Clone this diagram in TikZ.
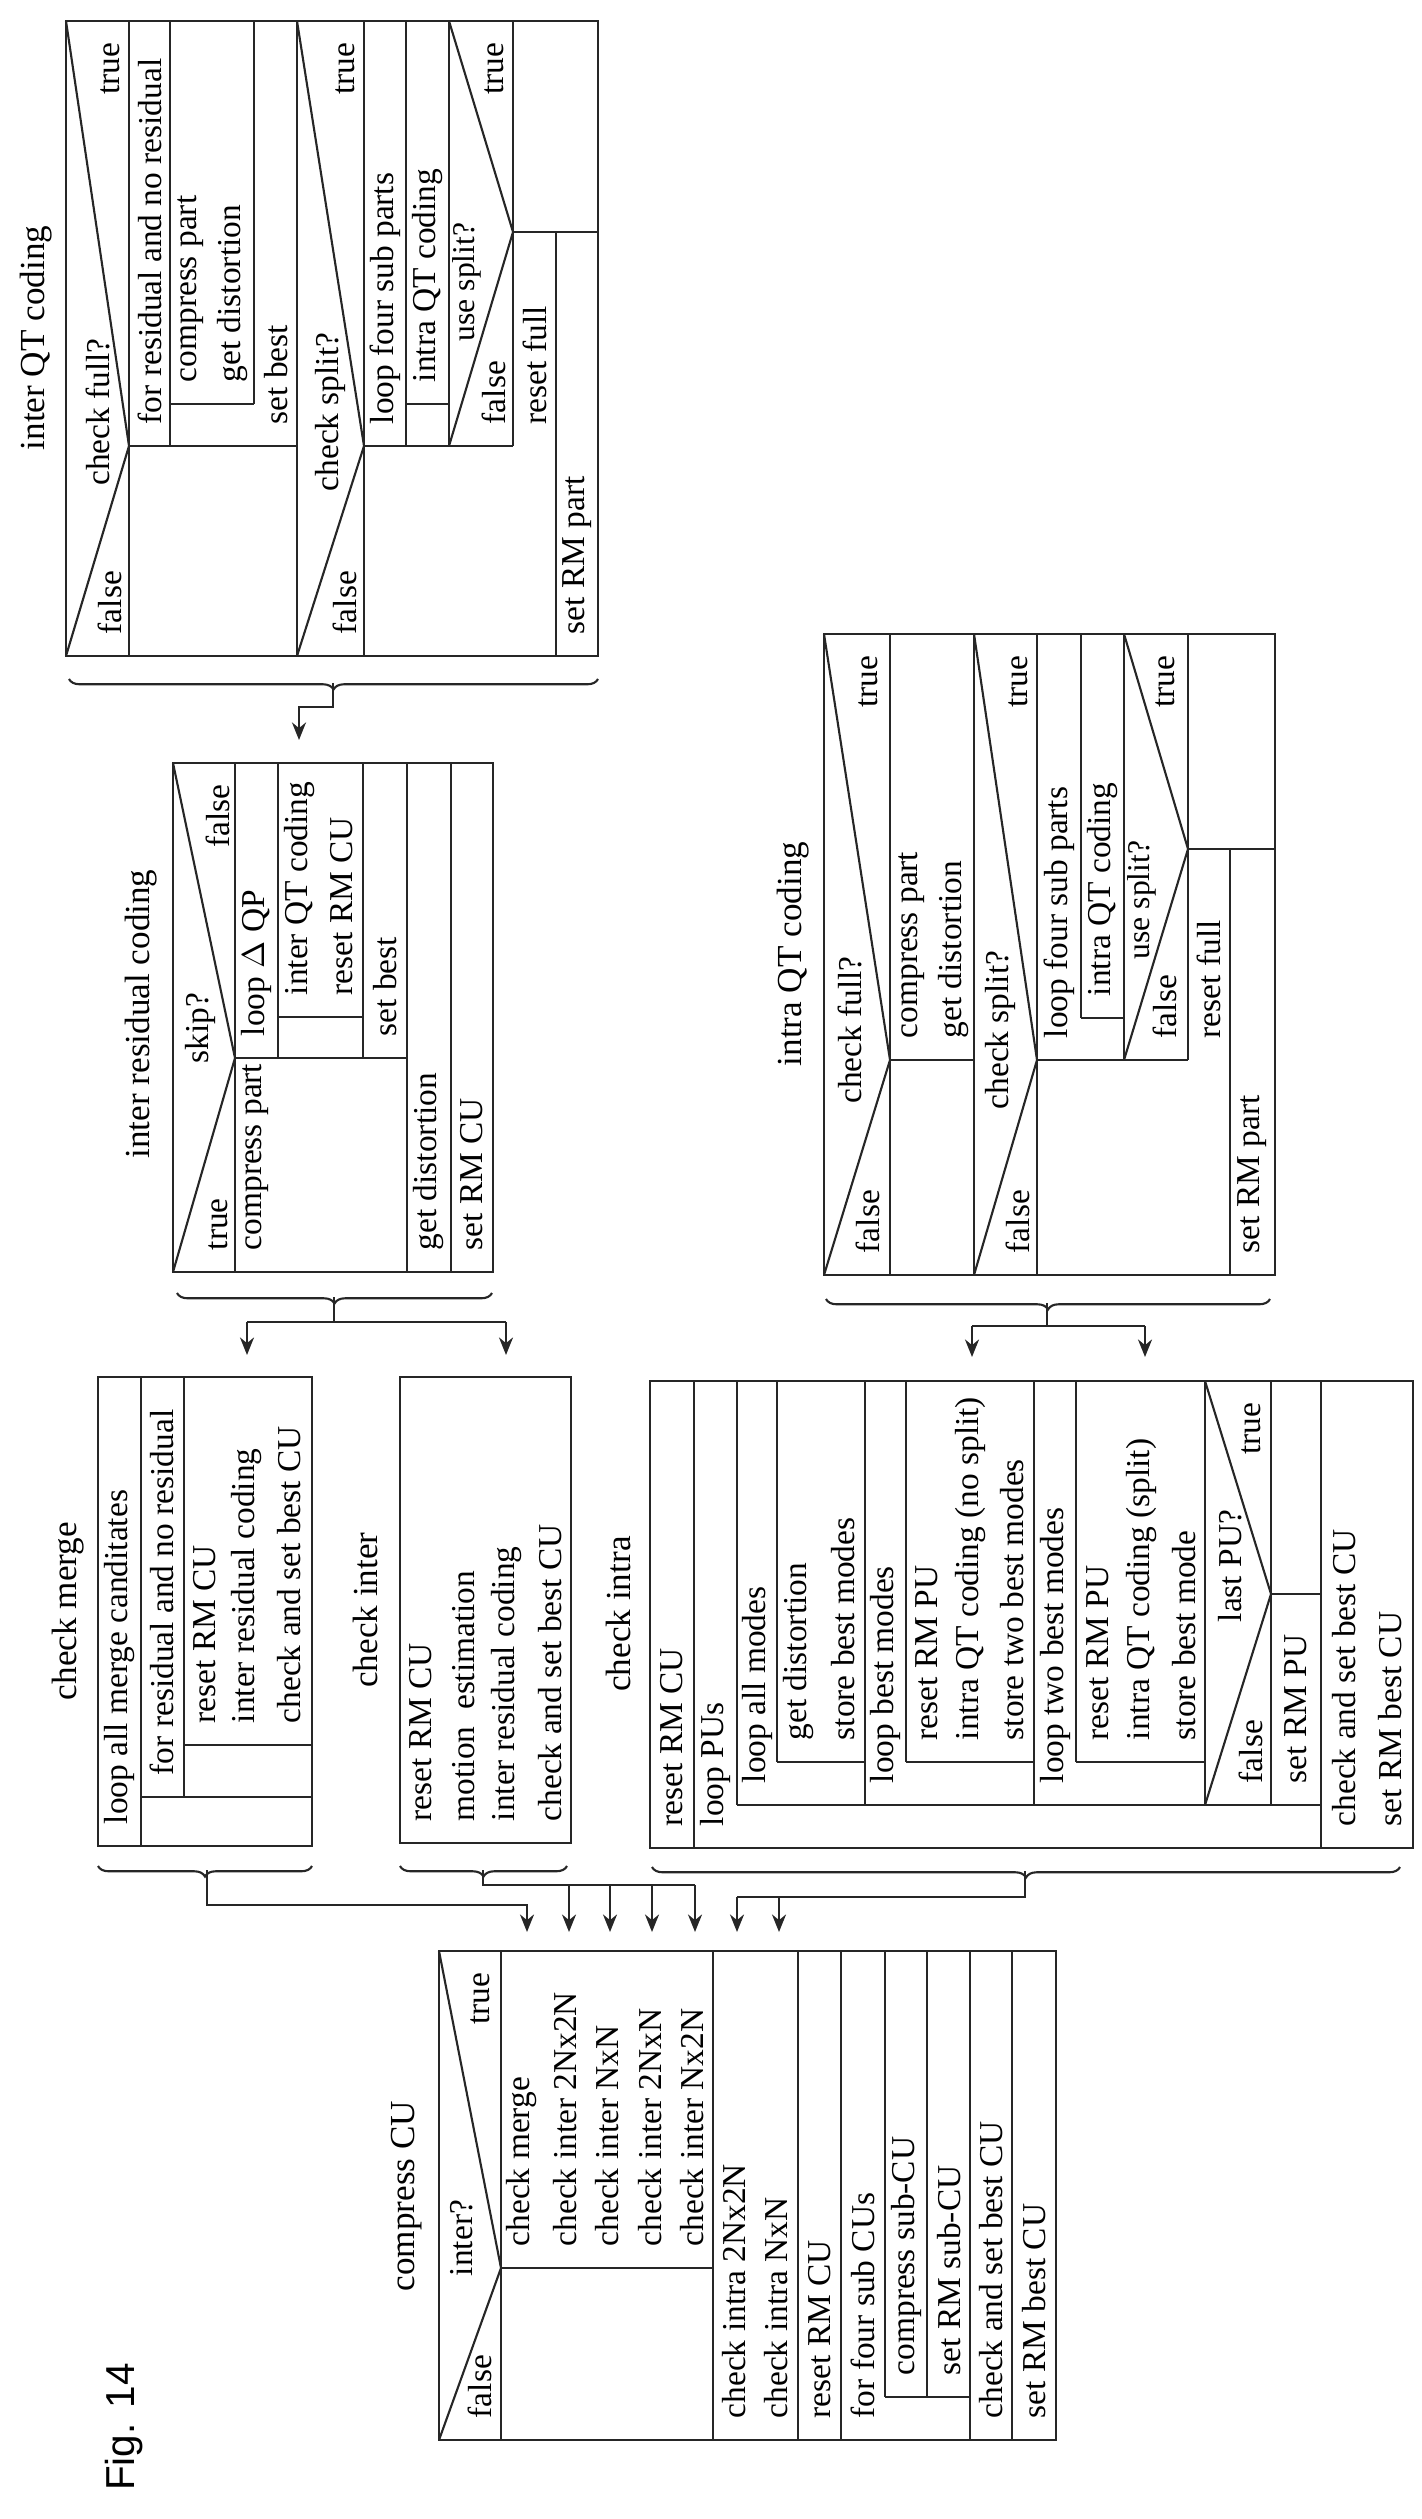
\documentclass[tikz,border=0pt]{standalone}
\usepackage{fontspec}
\setmainfont{Liberation Serif}
\newfontfamily\figfont{Liberation Sans}
\usetikzlibrary{arrows.meta,decorations.pathreplacing}
\begin{document}
\begin{tikzpicture}[x=0.01cm,y=-0.01cm,
  ln/.style={line width=0.6pt,black!85},
  txt/.style={rotate=90,inner xsep=6pt,inner ysep=0pt,font=\fontsize{9.5}{11}\selectfont},
  ttl/.style={rotate=90,inner sep=0pt,font=\fontsize{10}{12}\selectfont},
  arr/.style={ln,-{Stealth[length=5pt,width=4pt]}},
  br/.style={ln,decorate,decoration={brace,mirror,amplitude=3pt}}]
\newcommand\tB[4]{\node[txt,anchor=west] (#1) at (#2,#3) {#4};}
\newcommand\tT[4]{\node[txt,anchor=east] (#1) at (#2,#3) {#4};}
\newcommand\tC[4]{\node[txt,anchor=center,inner xsep=0pt] (#1) at (#2,#3) {#4};}
\useasboundingbox (0,0) rectangle (1421,2519);

\node[rotate=90,inner sep=0pt,font=\figfont\fontsize{11.5}{13}\selectfont] (fig) at (124,2427) {Fig. 14};

%% ---------------- inter QT coding
\node[ttl] (tiq) at (36,338) {inter QT coding};
\draw[ln] (66,21) rectangle (598,656);
\draw[ln] (66,21) -- (129,446) -- (66,656);
\draw[ln] (129,21) -- (129,656) (129,446) -- (297,446) (170,21) -- (170,446)
  (254,21) -- (254,404) (170,404) -- (254,404) (297,21) -- (297,656);
\draw[ln] (297,21) -- (364,446) -- (297,656);
\draw[ln] (364,21) -- (364,656) (364,446) -- (513,446) (406,21) -- (406,446)
  (449,21) -- (449,446) (406,404) -- (449,404);
\draw[ln] (449,21) -- (513,232) -- (449,446);
\draw[ln] (513,21) -- (513,446) (513,232) -- (598,232) (556,232) -- (556,656);
\tC{a1}{98}{412}{check full?}
\tT{a2}{110}{21}{true}
\tB{a3}{110}{656}{false}
\tB{a4}{150}{446}{for residual and no residual}
\tB{a5}{191}{404}{compress part}
\tB{a6}{233}{404}{get distortion}
\tB{a7}{276}{446}{set best}
\tC{a8}{330}{412}{check split?}
\tT{a9}{345}{21}{true}
\tB{a10}{345}{656}{false}
\tB{a11}{385}{446}{loop four sub parts}
\tB{a12}{428}{404}{intra QT coding}
\node[txt,inner xsep=0pt,font=\fontsize{9}{10}\selectfont] (a13) at (467,282) {use split?};
\tT{a14}{494}{21}{true}
\tB{a15}{494}{446}{false}
\tB{a16}{535}{446}{reset full}
\tB{a17}{577}{656}{set RM part}
\draw[br] (69,679) -- (598,679);
\coordinate (qa) at (333,683);
\draw[arr] (qa) -- (333,707) -- (299,707) -- (299,740);

%% ---------------- inter residual coding
\node[ttl] (tir) at (141,1014) {inter residual coding};
\draw[ln] (173,763) rectangle (493,1272);
\draw[ln] (173,763) -- (235,1058) -- (173,1272);
\draw[ln] (235,763) -- (235,1272) (235,1058) -- (407,1058) (278,763) -- (278,1058)
  (363,763) -- (363,1058) (278,1017) -- (363,1017) (407,763) -- (407,1272)
  (451,763) -- (451,1272);
\tC{b1}{200}{1028}{skip?}
\tT{b2}{218}{763}{false}
\tB{b3}{218}{1272}{true}
\tB{b4}{256}{1272}{compress part}
\tB{b5}{256}{1058}{loop $\Delta$ QP}
\tB{b6}{300}{1017}{inter QT coding}
\tB{b7}{342}{1017}{reset RM CU}
\tB{b8}{385}{1058}{set best}
\tB{b9}{429}{1272}{get distortion}
\tB{b10}{472}{1272}{set RM CU}
\draw[br] (177,1293) -- (492,1293);
\draw[ln] (334,1297) -- (334,1322);
\draw[ln] (247,1322) -- (506,1322);
\draw[arr] (247,1322) -- (247,1355);
\draw[arr] (506,1322) -- (506,1355);

%% ---------------- intra QT coding
\node[ttl] (tqq) at (793,954) {intra QT coding};
\draw[ln] (824,634) rectangle (1275,1275);
\draw[ln] (824,634) -- (890,1060) -- (824,1275);
\draw[ln] (890,634) -- (890,1275) (890,1060) -- (974,1060) (974,634) -- (974,1275);
\draw[ln] (974,634) -- (1037,1060) -- (974,1275);
\draw[ln] (1037,634) -- (1037,1275) (1037,1060) -- (1188,1060) (1081,634) -- (1081,1018)
  (1081,1018) -- (1124,1018) (1124,634) -- (1124,1060);
\draw[ln] (1124,634) -- (1188,849) -- (1124,1060);
\draw[ln] (1188,634) -- (1188,1060) (1188,849) -- (1275,849) (1230,849) -- (1230,1275);
\tC{c1}{850}{1030}{check full?}
\tT{c2}{868}{634}{true}
\tB{c3}{868}{1275}{false}
\tB{c4}{912}{1060}{compress part}
\tB{c5}{953}{1060}{get distortion}
\tC{c6}{1000}{1030}{check split?}
\tT{c7}{1018}{634}{true}
\tB{c8}{1018}{1275}{false}
\tB{c9}{1059}{1060}{loop four sub parts}
\tB{c10}{1102}{1018}{intra QT coding}
\node[txt,inner xsep=0pt,font=\fontsize{9}{10}\selectfont] (c11) at (1142,900) {use split?};
\tT{c12}{1165}{634}{true}
\tB{c13}{1165}{1060}{false}
\tB{c14}{1209}{1060}{reset full}
\tB{c15}{1252}{1275}{set RM part}
\draw[br] (826,1299) -- (1270,1299);
\draw[ln] (1047,1303) -- (1047,1326);
\draw[ln] (972,1326) -- (1145,1326);
\draw[arr] (972,1326) -- (972,1357);
\draw[arr] (1145,1326) -- (1145,1357);

%% ---------------- check merge
\node[ttl] (tcm) at (68,1611) {check merge};
\draw[ln] (98,1377) rectangle (312,1846);
\draw[ln] (141,1377) -- (141,1846) (184,1377) -- (184,1797) (141,1797) -- (312,1797)
  (184,1745) -- (312,1745);
\tB{d1}{120}{1846}{loop all merge canditates}
\tB{d2}{162}{1797}{for residual and no residual}
\tB{d3}{205}{1745}{reset RM CU}
\tB{d4}{247}{1745}{inter residual coding}
\tB{d5}{289}{1745}{check and set best CU}
\draw[br] (98,1866) -- (312,1866);
\draw[arr] (207,1870) -- (207,1905) -- (527,1905) -- (527,1932);

%% ---------------- check inter
\node[ttl] (tci) at (365,1610) {check inter};
\draw[ln] (400,1377) rectangle (571,1843);
\tB{e1}{421}{1843}{reset RM CU}
\tB{e2}{464}{1843}{motion\ \ estimation}
\tB{e3}{507}{1843}{inter residual coding}
\tB{e4}{550}{1843}{check and set best CU}
\draw[br] (400,1866) -- (567,1866);
\draw[ln] (483,1870) -- (483,1885) -- (695,1885);
\foreach \xx in {569,610,652,695} \draw[arr] (\xx,1885) -- (\xx,1932);

%% ---------------- check intra
\node[ttl] (tcn) at (618,1614) {check intra};
\draw[ln] (650,1381) rectangle (1413,1848);
\draw[ln] (694,1381) -- (694,1848) (737,1381) -- (737,1805) (737,1805) -- (1321,1805)
  (1321,1381) -- (1321,1848);
\draw[ln] (777,1381) -- (777,1762) (777,1762) -- (865,1762) (865,1381) -- (865,1805);
\draw[ln] (906,1381) -- (906,1762) (906,1762) -- (1034,1762) (1034,1381) -- (1034,1805);
\draw[ln] (1076,1381) -- (1076,1762) (1076,1762) -- (1205,1762) (1205,1381) -- (1205,1805);
\draw[ln] (1205,1381) -- (1271,1594) -- (1205,1805);
\draw[ln] (1271,1381) -- (1271,1805) (1271,1594) -- (1321,1594);
\tB{f1}{672}{1848}{reset RM CU}
\tB{f2}{715}{1848}{loop PUs}
\tB{f3}{757}{1805}{loop all modes}
\tB{f4}{799}{1762}{get distortion}
\tB{f5}{843}{1762}{store best modes}
\tB{f6}{885}{1805}{loop best modes}
\tB{f7}{927}{1762}{reset RM PU}
\tB{f8}{970}{1762}{intra QT coding (no split)}
\tB{f9}{1012}{1762}{store two best modes}
\tB{f10}{1055}{1805}{loop two best modes}
\tB{f11}{1098}{1762}{reset RM PU}
\tB{f12}{1141}{1762}{intra QT coding (split)}
\tB{f13}{1184}{1762}{store best mode}
\tC{f14}{1230}{1566}{last PU?}
\tT{f15}{1251}{1381}{true}
\tB{f16}{1251}{1805}{false}
\tB{f17}{1296}{1805}{set RM PU}
\tB{f18}{1344}{1848}{check and set best CU}
\tB{f19}{1390}{1848}{set RM best CU}
\draw[br] (652,1867) -- (1400,1867);
\draw[ln] (1025,1871) -- (1025,1897) -- (737,1897);
\draw[arr] (737,1897) -- (737,1932);
\draw[arr] (779,1897) -- (779,1932);

%% ---------------- compress CU
\node[ttl] (tcc) at (407,2196) {compress CU};
\draw[ln] (439,1951) rectangle (1056,2440);
\draw[ln] (439,1951) -- (501,2268) -- (439,2440);
\draw[ln] (501,1951) -- (501,2440) (501,2268) -- (713,2268) (713,1951) -- (713,2440)
  (798,1951) -- (798,2440) (841,1951) -- (841,2440) (885,1951) -- (885,2397)
  (927,1951) -- (927,2397) (885,2397) -- (970,2397) (970,1951) -- (970,2440)
  (1012,1951) -- (1012,2440);
\tC{g1}{462}{2238}{inter?}
\tT{g2}{480}{1951}{true}
\tB{g3}{480}{2440}{false}
\tB{g4}{522}{2268}{check merge}
\tB{g5}{565}{2268}{check inter 2Nx2N}
\tB{g6}{607}{2268}{check inter NxN}
\tB{g7}{650}{2268}{check inter 2NxN}
\tB{g8}{692}{2268}{check inter Nx2N}
\tB{g9}{734}{2440}{check intra 2Nx2N}
\tB{g10}{776}{2440}{check intra NxN}
\tB{g11}{820}{2440}{reset RM CU}
\tB{g12}{863}{2440}{for four sub CUs}
\tB{g13}{906}{2397}{compress sub-CU}
\tB{g14}{949}{2397}{set RM sub-CU}
\tB{g15}{991}{2440}{check and set best CU}
\tB{g16}{1034}{2440}{set RM best CU}
\end{tikzpicture}
\end{document}
